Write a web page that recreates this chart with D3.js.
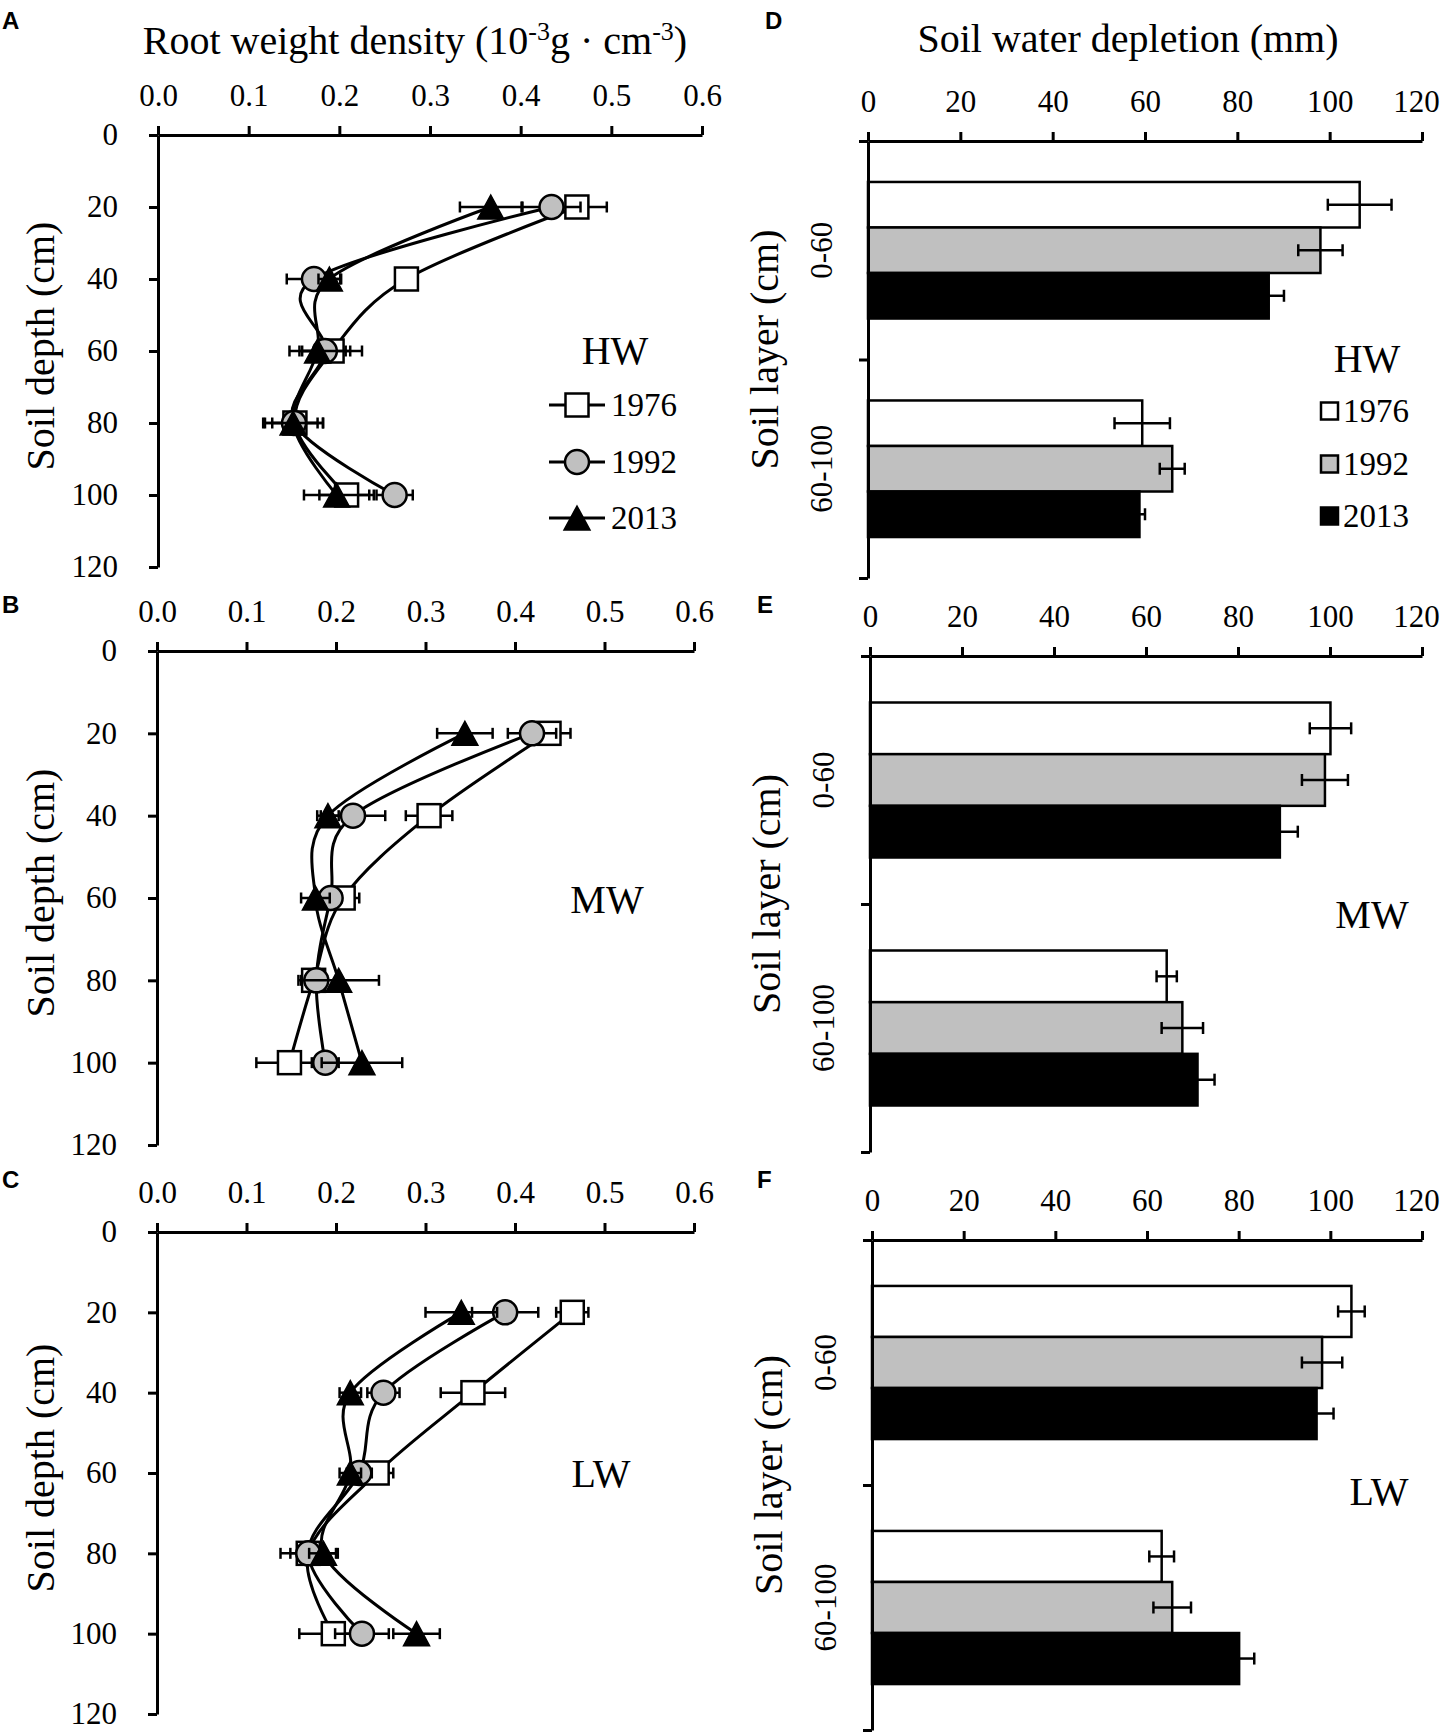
<!DOCTYPE html>
<html>
<head>
<meta charset="utf-8">
<script src="https://cdn.jsdelivr.net/npm/d3@7"></script>
<style>
  body { margin: 0; background: #fff; }
</style>
</head>
<body>
<script>
// ---- data ----
const depths = [20, 40, 60, 80, 100];
const years = ["1976", "1992", "2013"];
const layers = ["0-60", "60-100"];
const rwdTicks = [0, 0.1, 0.2, 0.3, 0.4, 0.5, 0.6];
const depthTicks = [0, 20, 40, 60, 80, 100, 120];
const swdTicks = [0, 20, 40, 60, 80, 100, 120];

// root weight density (10^-3 g cm^-3); one row per year, one column per depth
const rwdHW = [
  [0.462, 0.274, 0.192, 0.151, 0.208],
  [0.434, 0.172, 0.184, 0.150, 0.261],
  [0.367, 0.189, 0.176, 0.149, 0.197]
];
const rwdHWErr = [
  [0.033, 0.010, 0.033, 0.025, 0.030],
  [0.032, 0.030, 0.028, 0.032, 0.020],
  [0.034, 0.012, 0.031, 0.033, 0.036]
];
const rwdMW = [
  [0.438, 0.304, 0.208, 0.175, 0.148],
  [0.419, 0.219, 0.194, 0.178, 0.188],
  [0.344, 0.191, 0.177, 0.203, 0.229]
];
const rwdMWErr = [
  [0.024, 0.026, 0.018, 0.014, 0.037],
  [0.027, 0.036, 0.012, 0.012, 0.015],
  [0.031, 0.012, 0.016, 0.045, 0.045]
];
const rwdLW = [
  [0.464, 0.353, 0.246, 0.169, 0.197],
  [0.389, 0.253, 0.226, 0.169, 0.229],
  [0.340, 0.216, 0.216, 0.186, 0.290]
];
const rwdLWErr = [
  [0.018, 0.036, 0.018, 0.031, 0.038],
  [0.037, 0.018, 0.014, 0.020, 0.030],
  [0.040, 0.012, 0.012, 0.016, 0.026]
];

// soil water depletion (mm); one row per year, one column per layer
const swdHW = [[106.5, 59.4], [98.0, 65.9], [86.8, 58.8]];
const swdHWErr = [[6.9, 6.0], [4.8, 2.7], [3.3, 1.2]];
const swdMW = [[100.1, 64.5], [98.9, 67.9], [89.1, 71.2]];
const swdMWErr = [[4.5, 2.2], [5.0, 4.5], [3.9, 3.7]];
const swdLW = [[104.6, 63.2], [98.2, 65.5], [97.0, 80.1]];
const swdLWErr = [[2.9, 2.7], [4.4, 4.1], [3.7, 3.3]];

const fills = ["#ffffff", "#c0c0c0", "#000000"];
const SERIF = "'Liberation Serif', 'Times New Roman', serif";

const svg = d3.select("body").append("svg")
  .attr("width", 1442)
  .attr("height", 1732);

// style an axis group the way Excel drew it
const styleAxis = g => {
  g.attr("font-family", null).attr("font-size", null);
  g.selectAll(".domain, .tick line").attr("stroke", "#000").attr("stroke-width", 3);
  g.selectAll(".tick text")
    .style("font-family", SERIF).style("font-size", "31px").attr("fill", "#000");
};

const addText = (g, x, y, size, txt) =>
  g.append("text").attr("x", x).attr("y", y)
    .style("font-family", SERIF).style("font-size", size + "px")
    .attr("fill", "#000").text(txt);

const marker = (g, i, cx, cy) => {
  if (i === 0) {
    g.append("rect").attr("x", cx - 11.5).attr("y", cy - 11.5)
      .attr("width", 23).attr("height", 23)
      .attr("fill", "#fff").attr("stroke", "#000").attr("stroke-width", 2.5);
  } else if (i === 1) {
    g.append("circle").attr("cx", cx).attr("cy", cy).attr("r", 12)
      .attr("fill", "#c0c0c0").attr("stroke", "#000").attr("stroke-width", 2.5);
  } else {
    g.append("path")
      .attr("d", `M${cx},${cy - 12}L${cx + 13},${cy + 12}L${cx - 13},${cy + 12}Z`)
      .attr("fill", "#000").attr("stroke", "#000").attr("stroke-width", 1.5);
  }
};

const panelLetter = (txt, x, y) => {
  svg.append("text").attr("x", x).attr("y", y).text(txt)
    .style("font-family", "'Liberation Sans', Arial, sans-serif")
    .style("font-weight", "bold").style("font-size", "24px");
};

// ---- root weight density profile (A, B, C) ----
const drawProfile = opt => {
  const x = d3.scaleLinear().domain([0, 0.6]).range([opt.left, opt.right]);
  const y = d3.scaleLinear().domain([0, 120]).range([opt.top, opt.bottom]);
  const g = svg.append("g");

  g.append("g")
    .attr("transform", "translate(0," + opt.top + ")")
    .call(d3.axisTop(x).tickValues(rwdTicks).tickFormat(d3.format(".1f"))
      .tickSize(9).tickSizeOuter(0).tickPadding(20))
    .call(styleAxis);
  g.append("g")
    .attr("transform", "translate(" + opt.left + ",0)")
    .call(d3.axisLeft(y).tickValues(depthTicks).tickSize(9).tickSizeOuter(0).tickPadding(31))
    .call(styleAxis);

  // Excel-style smoothed lines
  const line = d3.line()
    .x(d => x(d[0]))
    .y(d => y(d[1]))
    .curve(d3.curveCatmullRom.alpha(0));

  years.forEach((yr, i) => {
    const pts = depths.map((dp, j) => [opt.vals[i][j], dp]);
    g.append("path").attr("d", line(pts))
      .attr("fill", "none").attr("stroke", "#000").attr("stroke-width", 3);
  });
  years.forEach((yr, i) => {
    const s = g.append("g");
    depths.forEach((dp, j) => {
      const v = opt.vals[i][j], e = opt.errs[i][j];
      const cy = y(dp);
      s.append("line").attr("x1", x(v - e)).attr("x2", x(v + e))
        .attr("y1", cy).attr("y2", cy)
        .attr("stroke", "#000").attr("stroke-width", 2.5);
      [v - e, v + e].forEach(c => {
        s.append("line").attr("x1", x(c)).attr("x2", x(c))
          .attr("y1", cy - 5.5).attr("y2", cy + 5.5)
          .attr("stroke", "#000").attr("stroke-width", 2.5);
      });
    });
    depths.forEach((dp, j) => marker(s, i, x(opt.vals[i][j]), y(dp)));
  });

  // y title
  addText(g, 0, 0, 40, "Soil depth (cm)")
    .attr("transform", `translate(${opt.yTitleX},${(opt.top + opt.bottom) / 2 - 5}) rotate(-90)`)
    .attr("text-anchor", "middle");

  // site label
  addText(g, opt.siteX, opt.siteY, 40, opt.site).attr("text-anchor", "middle");

  if (opt.legend) {
    const rowY = [405, 462, 518];
    years.forEach((yr, i) => {
      g.append("line").attr("x1", 549).attr("x2", 605)
        .attr("y1", rowY[i]).attr("y2", rowY[i])
        .attr("stroke", "#000").attr("stroke-width", 3);
      marker(g, i, 577, rowY[i]);
      addText(g, 611, rowY[i] + 11, 33, yr);
    });
  }
};

// ---- soil water depletion bars (D, E, F) ----
const drawBars = opt => {
  const x = d3.scaleLinear().domain([0, 120]).range([opt.left, opt.right]);
  const yLayer = d3.scaleBand().domain(layers).range([opt.top, opt.bottom])
    .paddingInner(0.375).paddingOuter(0.1875);
  const yYear = d3.scaleBand().domain(years).range([0, yLayer.bandwidth()]);
  const yEdge = d3.scaleLinear().domain([0, layers.length]).range([opt.top, opt.bottom]);
  const g = svg.append("g");

  layers.forEach((ly, j) => {
    years.forEach((yr, i) => {
      const v = opt.vals[i][j];
      g.append("rect")
        .attr("x", x(0)).attr("y", yLayer(ly) + yYear(yr))
        .attr("width", x(v) - x(0)).attr("height", yYear.bandwidth())
        .attr("fill", fills[i]).attr("stroke", "#000").attr("stroke-width", 2.5);
    });
  });
  layers.forEach((ly, j) => {
    years.forEach((yr, i) => {
      const v = opt.vals[i][j], e = opt.errs[i][j];
      const cy = yLayer(ly) + yYear(yr) + yYear.bandwidth() / 2;
      g.append("line").attr("x1", x(v - e)).attr("x2", x(v + e))
        .attr("y1", cy).attr("y2", cy)
        .attr("stroke", "#000").attr("stroke-width", 2.5);
      [v - e, v + e].forEach(c => {
        g.append("line").attr("x1", x(c)).attr("x2", x(c))
          .attr("y1", cy - 6).attr("y2", cy + 6)
          .attr("stroke", "#000").attr("stroke-width", 2.5);
      });
    });
  });

  const gx = g.append("g")
    .attr("transform", "translate(0," + opt.top + ")")
    .call(d3.axisTop(x).tickValues(swdTicks).tickSize(9).tickSizeOuter(0).tickPadding(20))
    .call(styleAxis);
  // keep the last label inside the page, as in the original
  gx.selectAll(".tick text").filter(d => d === 120).attr("dx", -6);

  g.append("g")
    .attr("transform", "translate(" + opt.left + ",0)")
    .call(d3.axisLeft(yEdge).tickValues([0, 1, 2]).tickFormat("").tickSize(9).tickSizeOuter(0))
    .call(styleAxis);

  layers.forEach(ly => {
    const cy = yLayer(ly) + yLayer.bandwidth() / 2;
    addText(g, 0, 0, 31, ly)
      .attr("transform", `translate(${opt.left - 36},${cy}) rotate(-90)`)
      .attr("text-anchor", "middle");
  });

  addText(g, 0, 0, 40, "Soil layer (cm)")
    .attr("transform", `translate(${opt.left - 90},${(opt.top + opt.bottom) / 2 - 10}) rotate(-90)`)
    .attr("text-anchor", "middle");

  addText(g, opt.siteX, opt.siteY, 40, opt.site).attr("text-anchor", "middle");

  if (opt.legend) {
    const rowY = [411, 464, 516];
    years.forEach((yr, i) => {
      g.append("rect").attr("x", 1321).attr("y", rowY[i] - 8.5)
        .attr("width", 17).attr("height", 17)
        .attr("fill", fills[i]).attr("stroke", "#000").attr("stroke-width", 2.5);
      addText(g, 1343, rowY[i] + 11, 33, yr);
    });
  }
};

drawProfile({ left: 158, right: 702, top: 135, bottom: 567, vals: rwdHW, errs: rwdHWErr,
  yTitleX: 54, site: "HW", siteX: 615, siteY: 364, legend: true });
drawProfile({ left: 157, right: 694, top: 651, bottom: 1145, vals: rwdMW, errs: rwdMWErr,
  yTitleX: 54, site: "MW", siteX: 607, siteY: 913, legend: false });
drawProfile({ left: 157, right: 694, top: 1232, bottom: 1714, vals: rwdLW, errs: rwdLWErr,
  yTitleX: 54, site: "LW", siteX: 601, siteY: 1487, legend: false });

drawBars({ left: 868, right: 1422, top: 141, bottom: 578, vals: swdHW, errs: swdHWErr,
  site: "HW", siteX: 1367, siteY: 372, legend: true });
drawBars({ left: 870, right: 1422, top: 656, bottom: 1152, vals: swdMW, errs: swdMWErr,
  site: "MW", siteX: 1372, siteY: 928, legend: false });
drawBars({ left: 872, right: 1422, top: 1240, bottom: 1730, vals: swdLW, errs: swdLWErr,
  site: "LW", siteX: 1379, siteY: 1505, legend: false });

// titles
const title1 = addText(svg, 415, 54, 40, null).attr("text-anchor", "middle");
title1.append("tspan").text("Root weight density (10");
title1.append("tspan").attr("dy", -14).style("font-size", "26px").text("-3");
title1.append("tspan").attr("dy", 14).text("g · cm");
title1.append("tspan").attr("dy", -14).style("font-size", "26px").text("-3");
title1.append("tspan").attr("dy", 14).text(")");

addText(svg, 1128, 52, 40, "Soil water depletion (mm)").attr("text-anchor", "middle");

panelLetter("A", 2, 29);
panelLetter("B", 2, 613);
panelLetter("C", 2, 1188);
panelLetter("D", 765, 29);
panelLetter("E", 757, 613);
panelLetter("F", 757, 1188);
</script>
</body>
</html>
